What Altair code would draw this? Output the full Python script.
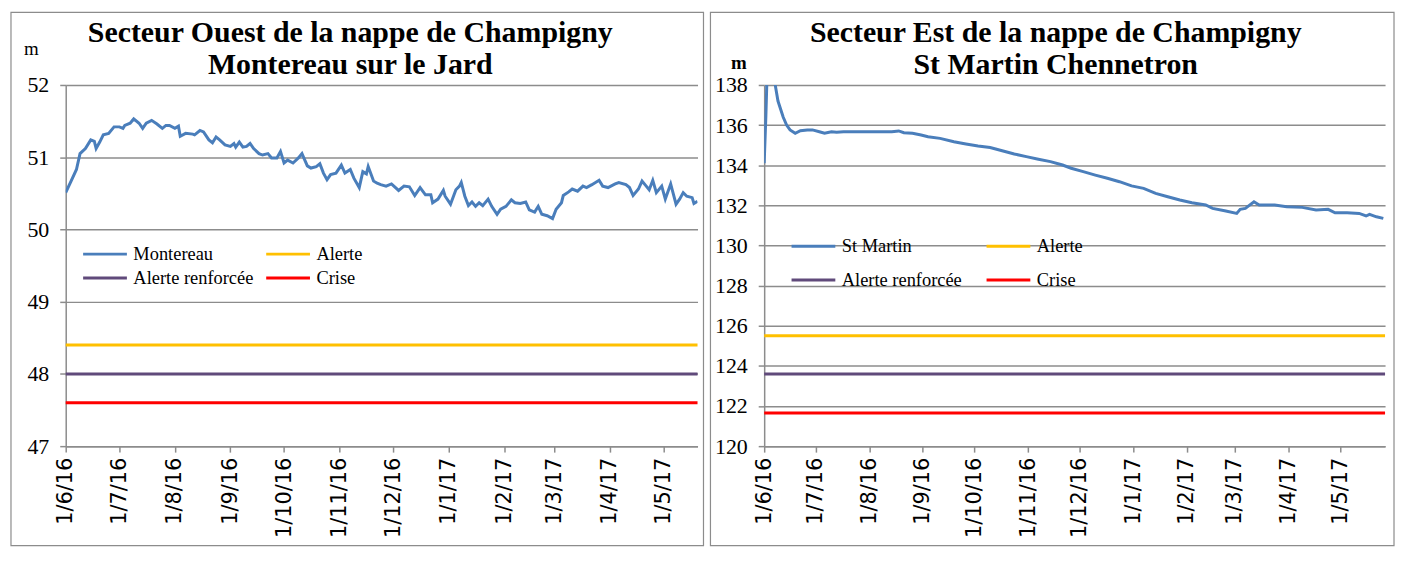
import altair as alt
import pandas as pd

SERIF = "Liberation Serif"
SANS = "DejaVu Sans"
GRID = "#8c8c8c"

START = (2016, 6, 1)
LEFT_END = (2017, 5, 20)
RIGHT_END = (2017, 5, 27)

TICK_MONTHS = [(2016, 6), (2016, 7), (2016, 8), (2016, 9), (2016, 10), (2016, 11),
               (2016, 12), (2017, 1), (2017, 2), (2017, 3), (2017, 4), (2017, 5)]

# legend is filled column by column: series, Alerte renforcée | Alerte, Crise
THRESH_NAMES = ["Alerte renforcée", "Alerte", "Crise"]
COLORS = ["#4A7EBB", "#604A7B", "#FFC000", "#FF0000"]

# ---- Secteur Ouest : Montereau sur le Jard (days after 1 June 2016, level in m)
LEFT_NAME = "Montereau"
LEFT_TITLE = ["Secteur Ouest de la nappe de Champigny", "Montereau sur le Jard"]
LEFT_DAYS = [0, 3, 6, 8, 11, 14, 16, 17, 19, 21,
             24, 27, 30, 32, 33, 36, 38, 41, 43, 45,
             48, 51, 54, 56, 58, 61, 63, 64, 67, 71,
             72, 75, 77, 80, 82, 84, 86, 89, 92, 94,
             95, 97, 99, 101, 103, 105, 108, 110, 113, 115,
             118, 120, 122, 124, 127, 130, 132, 135, 137, 140,
             142, 144, 146, 148, 151, 154, 156, 159, 161, 164,
             166, 168, 169, 172, 174, 176, 179, 182, 186, 189,
             192, 195, 198, 201, 204, 205, 208, 211, 212, 215,
             218, 220, 221, 223, 225, 227, 229, 231, 233, 236,
             238, 241, 243, 246, 249, 251, 254, 257, 259, 262,
             264, 266, 269, 272, 274, 277, 278, 281, 283, 286,
             289, 291, 294, 298, 300, 303, 307, 309, 313, 315,
             317, 320, 322, 324, 326, 328, 330, 333, 335, 338,
             341, 343, 345, 347, 350, 351, 353]
LEFT_LEVELS = [50.51, 50.67, 50.83, 51.05, 51.12, 51.24, 51.22, 51.12, 51.21, 51.31,
               51.33, 51.42, 51.42, 51.40, 51.44, 51.47, 51.53, 51.47, 51.40, 51.47,
               51.51, 51.46, 51.40, 51.44, 51.44, 51.40, 51.43, 51.29, 51.33, 51.32,
               51.31, 51.37, 51.35, 51.24, 51.20, 51.28, 51.24, 51.17, 51.15, 51.19,
               51.14, 51.21, 51.14, 51.15, 51.19, 51.12, 51.05, 51.03, 51.05, 50.99,
               50.99, 51.08, 50.92, 50.96, 50.92, 50.99, 51.05, 50.88, 50.85, 50.87,
               50.91, 50.78, 50.69, 50.76, 50.78, 50.89, 50.78, 50.83, 50.71, 50.58,
               50.80, 50.77, 50.87, 50.67, 50.64, 50.62, 50.60, 50.63, 50.54, 50.60,
               50.59, 50.47, 50.58, 50.48, 50.48, 50.37, 50.42, 50.54, 50.46, 50.35,
               50.55, 50.60, 50.65, 50.46, 50.33, 50.38, 50.32, 50.37, 50.33, 50.42,
               50.32, 50.21, 50.28, 50.32, 50.41, 50.37, 50.36, 50.38, 50.27, 50.24,
               50.32, 50.21, 50.19, 50.15, 50.28, 50.37, 50.47, 50.52, 50.56, 50.53,
               50.60, 50.58, 50.62, 50.68, 50.60, 50.58, 50.63, 50.65, 50.62, 50.58,
               50.47, 50.56, 50.67, 50.61, 50.55, 50.68, 50.51, 50.60, 50.42, 50.63,
               50.35, 50.42, 50.51, 50.46, 50.44, 50.36, 50.39]
LEFT_THRESH = [48.0, 48.4, 47.6]
LEFT_YTICKS = [47, 48, 49, 50, 51, 52]

# ---- Secteur Est : St Martin Chennetron
RIGHT_NAME = "St Martin"
RIGHT_TITLE = ["Secteur Est de la nappe de Champigny", "St Martin Chennetron"]
RIGHT_DAYS = [0, 1, 2, 4, 6, 8, 11, 13, 15, 18,
              21, 25, 28, 32, 35, 39, 42, 46, 55, 67,
              74, 78, 81, 86, 91, 95, 102, 110, 117, 124,
              131, 138, 145, 152, 159, 166, 173, 178, 185, 192,
              199, 206, 213, 220, 227, 234, 241, 248, 256, 260,
              267, 274, 276, 279, 284, 287, 296, 303, 312, 320,
              327, 331, 338, 345, 349, 351, 355, 359]
RIGHT_LEVELS = [134.1, 136.5, 139.5, 139.5, 138.2, 137.2, 136.4, 136.0, 135.76, 135.59,
                135.72, 135.76, 135.76, 135.67, 135.6, 135.67, 135.64, 135.67, 135.67, 135.67,
                135.67, 135.71, 135.62, 135.59, 135.51, 135.42, 135.34, 135.17, 135.06, 134.96,
                134.88, 134.72, 134.56, 134.43, 134.30, 134.18, 134.01, 133.85, 133.68, 133.51,
                133.35, 133.18, 132.97, 132.85, 132.60, 132.43, 132.27, 132.13, 132.02, 131.85,
                131.73, 131.60, 131.80, 131.85, 132.18, 132.02, 132.02, 131.93, 131.90, 131.77,
                131.80, 131.63, 131.63, 131.60, 131.47, 131.55, 131.43, 131.35]
RIGHT_THRESH = [123.6, 125.5, 121.65]
RIGHT_YTICKS = [120, 122, 124, 126, 128, 130, 132, 134, 136, 138]


def to_dates(days):
    return pd.Timestamp(*START) + pd.to_timedelta(days, unit="D")


def dt(t):
    return alt.DateTime(year=t[0], month=t[1], date=t[2] if len(t) > 2 else 1)


def panel(name, days, levels, thresh, yticks, x_end, title_lines, title_cx,
          w, h, frame, unit_bold, unit_xy, leg_xy, leg_rowpad, leg_colpad):
    series = pd.DataFrame({"date": to_dates(days), "level": levels, "serie": name})
    thr = pd.DataFrame({"serie": THRESH_NAMES, "level": thresh})

    legend = alt.Legend(
        title=None, orient="none", legendX=leg_xy[0], legendY=leg_xy[1], columns=2,
        symbolType="stroke", symbolSize=1936, symbolStrokeWidth=3, clipHeight=24,
        rowPadding=leg_rowpad, columnPadding=leg_colpad, labelOffset=5,
        labelFont=SERIF, labelFontSize=18.5, labelColor="#000", padding=0, labelLimit=400,
    )
    color = alt.Color("serie:N", scale=alt.Scale(domain=[name] + THRESH_NAMES, range=COLORS),
                      legend=legend)
    y = alt.Y("level:Q",
              scale=alt.Scale(domain=[yticks[0], yticks[-1]], nice=False, zero=False),
              axis=alt.Axis(values=yticks, grid=True, gridColor=GRID, gridWidth=1.5,
                            domainColor=GRID, domainWidth=1.5, tickColor=GRID, tickSize=6,
                            tickWidth=1.5, labelFont=SERIF, labelFontSize=22, labelColor="#000",
                            labelPadding=11, title="m", titleAngle=0, titleX=unit_xy[0],
                            titleY=unit_xy[1], titleAlign="center", titleBaseline="middle",
                            titleFont=SERIF, titleFontSize=19, titleColor="#000",
                            titleFontWeight="bold" if unit_bold else "normal"))
    x = alt.X("date:T",
              scale=alt.Scale(domain=[dt(START), dt(x_end)]),
              axis=alt.Axis(values=[dt(m) for m in TICK_MONTHS], format="%-d/%-m/%y",
                            labelAngle=270, labelFont=SANS, labelFontSize=21,
                            labelColor="#000", labelPadding=5, grid=False,
                            domainColor=GRID, domainWidth=1.5, tickColor=GRID, tickSize=6,
                            tickWidth=1.5, labelOverlap=False, title=None))

    one = alt.Data(values=[{}])
    frame_mark = alt.Chart(one).mark_rect(fillOpacity=0, stroke=GRID, strokeWidth=1.2).encode(
        x=alt.value(frame[0]), x2=alt.value(frame[1]), y=alt.value(frame[2]), y2=alt.value(frame[3]))
    t1 = alt.Chart(one).mark_text(text=title_lines[0], font=SERIF, fontSize=30, fontWeight="bold",
                                  align="center", baseline="alphabetic", color="#000").encode(
        x=alt.value(title_cx), y=alt.value(-43))
    t2 = alt.Chart(one).mark_text(text=title_lines[1], font=SERIF, fontSize=30, fontWeight="bold",
                                  align="center", baseline="alphabetic", color="#000").encode(
        x=alt.value(title_cx), y=alt.value(-11))
    rules = alt.Chart(thr).mark_rule(strokeWidth=3).encode(y=y, color=color)
    line = alt.Chart(series).mark_line(strokeWidth=3, clip=True).encode(x=x, y=y, color=color)
    return alt.layer(frame_mark, rules, line, t1, t2).properties(width=w, height=h)


left = panel(LEFT_NAME, LEFT_DAYS, LEFT_LEVELS, LEFT_THRESH, LEFT_YTICKS, LEFT_END,
             LEFT_TITLE, 286, 635, 363, (-55, 641, -73, 463), False, (-35, -37),
             (16, 158), 0, 11)
right = panel(RIGHT_NAME, RIGHT_DAYS, RIGHT_LEVELS, RIGHT_THRESH, RIGHT_YTICKS, RIGHT_END,
              RIGHT_TITLE, 293, 624, 363, (-54, 633, -73, 463), True, (-26, -23),
              (26, 150), 10, 23)

chart = (
    alt.hconcat(left, right, spacing=5)
    .resolve_scale(color="independent", x="independent", y="independent")
    .properties(padding={"left": 2, "top": 2, "right": 0, "bottom": 0})
    .configure_view(stroke=None)
)

chart.save("out.html", embed_options={"renderer": "svg", "actions": False})
